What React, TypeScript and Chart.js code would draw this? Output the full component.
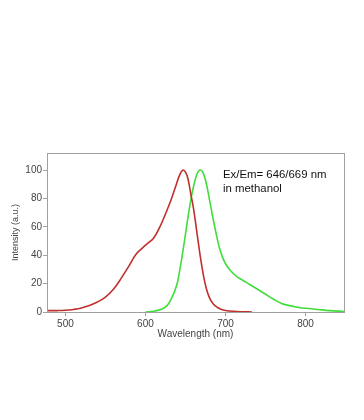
import React, { useEffect, useRef } from "react";
import { Chart, registerables } from "chart.js";

Chart.register(...registerables);

const absX = [478, 490, 500, 510, 520, 530, 540, 550, 560, 570, 580, 588, 595, 602, 610, 618, 625, 632, 638, 643, 647, 650, 653, 657, 660, 664, 668, 672, 676, 680, 685, 690, 695, 700, 710, 720, 733];
const absY = [1.0, 1.0, 1.2, 1.8, 2.8, 4.5, 7, 10.5, 16, 24, 33, 40.5, 44.5, 48, 52, 60, 69, 79, 89, 97, 100, 98.5, 94, 82, 73, 57, 41, 27, 16.5, 10, 5.5, 3.2, 1.8, 1.1, 0.5, 0.2, 0];

const emX = [600, 610, 620, 627, 632, 636, 640, 643, 646, 650, 654, 658, 662, 665, 668, 671, 675, 680, 684, 688, 692, 696, 700, 705, 710, 715, 721, 727, 733, 740, 750, 760, 770, 780, 790, 800, 815, 830, 848];
const emY = [0, 0.5, 2, 4.5, 9, 14, 21, 30, 40, 55, 70, 83, 93, 98, 100, 99, 93, 79, 67, 56, 46, 39, 34, 30, 27, 24.5, 22.5, 20.5, 18.5, 16, 12.5, 9, 6, 4.5, 3.4, 2.6, 1.8, 1, 0.4];

const xTicks = [500, 600, 700, 800];
const yTicks = [0, 20, 40, 60, 80, 100];
const noteLines = ["Ex/Em= 646/669 nm", "in methanol"];

const FONT = "'Liberation Sans', Arial, sans-serif";

export default function App() {
  const ref = useRef<HTMLCanvasElement>(null);
  useEffect(() => {
    const canvas = ref.current!;
    const frame = {
      id: "frame",
      afterDatasetsDraw(chart: any) {
        const { ctx, chartArea: a } = chart;
        ctx.save();
        ctx.strokeStyle = "#a0a0a0";
        ctx.lineWidth = 1;
        ctx.strokeRect(Math.round(a.left) + 0.5, Math.round(a.top) + 0.5, Math.round(a.right - a.left), Math.round(a.bottom - a.top));
        ctx.fillStyle = "#111";
        ctx.font = "11.4px " + FONT;
        ctx.textBaseline = "middle";
        ctx.fillText(noteLines[0], 223, 175);
        ctx.fillText(noteLines[1], 223, 189);
        ctx.restore();
      },
    };
    const chart = new Chart(canvas, {
      type: "scatter",
      data: {
        datasets: [
          {
            data: absX.map((x, i) => ({ x, y: absY[i] })),
            showLine: true,
            borderColor: "#c0302c",
            borderWidth: 1.6,
            pointRadius: 0,
            tension: 0.4,
          },
          {
            data: emX.map((x, i) => ({ x, y: emY[i] })),
            showLine: true,
            borderColor: "#40dd3c",
            borderWidth: 1.6,
            pointRadius: 0,
            tension: 0.4,
          },
        ],
      },
      options: {
        animation: false,
        responsive: false,
        maintainAspectRatio: false,
        layout: { padding: { left: 10, top: 153, right: 20, bottom: 80 } },
        plugins: { legend: { display: false }, tooltip: { enabled: false } },
        scales: {
          x: {
            type: "linear",
            min: 477,
            max: 848,
            afterBuildTicks: (s: any) => {
              s.ticks = xTicks.map((v) => ({ value: v }));
            },
            afterFit: (s: any) => {
              s.height = 28;
            },
            grid: { display: true, drawOnChartArea: false, drawTicks: true, tickLength: 4, color: "#a0a0a0" },
            border: { display: false },
            ticks: { color: "#444", font: { size: 10, family: FONT }, padding: 2 },
            title: { display: true, text: "Wavelength (nm)", color: "#444", font: { size: 10, family: FONT }, padding: { top: 0, bottom: 0 } },
          },
          y: {
            type: "linear",
            min: 0,
            max: 112,
            afterBuildTicks: (s: any) => {
              s.ticks = yTicks.map((v) => ({ value: v }));
            },
            afterFit: (s: any) => {
              s.width = 37;
            },
            grid: { display: true, drawOnChartArea: false, drawTicks: true, tickLength: 4, color: "#a0a0a0" },
            border: { display: false },
            ticks: { color: "#444", font: { size: 10, family: FONT }, padding: 1 },
            title: { display: true, text: "Intensity (a.u.)", color: "#444", font: { size: 9, family: FONT }, padding: { top: 0, bottom: 0 } },
          },
        },
      },
      plugins: [frame],
    } as any);
    return () => chart.destroy();
  }, []);
  return (
    <div style={{ position: "absolute", left: 0, top: 0, width: 364, height: 420, background: "#fff" }}>
      <canvas ref={ref} width={364} height={420} style={{ display: "block", width: 364, height: 420 }} />
    </div>
  );
}
